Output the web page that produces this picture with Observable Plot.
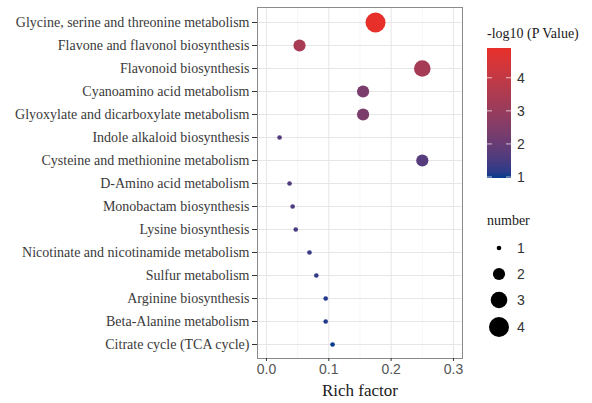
<!DOCTYPE html>
<html>
<head>
<meta charset="utf-8">
<script src="https://cdn.jsdelivr.net/npm/d3@7"></script>
<script src="https://cdn.jsdelivr.net/npm/@observablehq/plot@0.6"></script>
<style>
  body { margin: 0; background: #fff; }
  #wrap { position: relative; width: 592px; height: 403px; }
  #wrap svg { position: absolute; left: 0; top: 0; }
</style>
</head>
<body>
<div id="wrap"></div>
<script>
const pathways = [
  "Glycine, serine and threonine metabolism",
  "Flavone and flavonol biosynthesis",
  "Flavonoid biosynthesis",
  "Cyanoamino acid metabolism",
  "Glyoxylate and dicarboxylate metabolism",
  "Indole alkaloid biosynthesis",
  "Cysteine and methionine metabolism",
  "D-Amino acid metabolism",
  "Monobactam biosynthesis",
  "Lysine biosynthesis",
  "Nicotinate and nicotinamide metabolism",
  "Sulfur metabolism",
  "Arginine biosynthesis",
  "Beta-Alanine metabolism",
  "Citrate cycle (TCA cycle)"
];
const richFactor = [0.175, 0.053, 0.250, 0.155, 0.155, 0.021, 0.250, 0.037, 0.042, 0.047, 0.069, 0.080, 0.095, 0.095, 0.106];
const negLog10P  = [4.90, 3.35, 3.30, 2.35, 2.35, 1.65, 1.70, 1.60, 1.55, 1.50, 1.30, 1.25, 1.10, 1.10, 0.97];
const number     = [4, 2, 3, 2, 2, 1, 2, 1, 1, 1, 1, 1, 1, 1, 1];
const xTicks = [0, 0.1, 0.2, 0.3];
const xMinorTicks = [0.05, 0.15, 0.25];
const colorTicks = [1, 2, 3, 4];
const sizeTicks = [1, 2, 3, 4];

const data = pathways.map((p, i) => ({pathway: p, rich: richFactor[i], p: negLog10P[i], n: number[i]}));

const colorOpts = {type: "linear", domain: d3.extent(negLog10P), range: ["#053a8d", "#e8302a"], interpolate: "lab"};
const rOpts = {type: "linear", domain: [1, 2, 3, 4], range: [2.3, 6.1, 8.3, 10]};

const W = 592, H = 403;
const mL = 257, mR = 130, mT = 7, mB = 45;

const chart = Plot.plot({
  width: W, height: H,
  marginLeft: mL, marginRight: mR, marginTop: mT, marginBottom: mB,
  style: {background: "transparent"},
  x: {domain: [-0.0144, 0.3145]},
  y: {type: "point", domain: pathways, padding: 0.6},
  color: colorOpts,
  r: rOpts,
  marks: [
    Plot.gridX(xMinorTicks, {stroke: "#f0f0f0", strokeOpacity: 1, strokeWidth: 0.6}),
    Plot.gridX(xTicks, {stroke: "#e6e6e6", strokeOpacity: 1, strokeWidth: 1}),
    Plot.gridY(pathways, {stroke: "#e6e6e6", strokeOpacity: 1, strokeWidth: 1}),
    Plot.frame({stroke: "#8a8a8a", strokeWidth: 1}),
    Plot.axisY({tickSize: 5, tickPadding: 3, fontSize: 14, fontFamily: "Liberation Serif", color: "#3a3a3a", stroke: "#333", label: null}),
    Plot.axisX(xTicks, {tickSize: 3, tickPadding: 3, fontSize: 14, fontFamily: "Liberation Sans", color: "#555", stroke: "#333", tickFormat: d3.format(".1f"), label: null}),
    Plot.dot(data, {x: "rich", y: "pathway", fill: "p", r: "n", stroke: null}),
    Plot.text(["Rich factor"], {frameAnchor: "bottom", dy: 32, fontSize: 17, fontFamily: "Liberation Serif", fill: "#1a1a1a", lineAnchor: "middle"})
  ]
});
document.getElementById("wrap").appendChild(chart);

// Legends, using the same scales
const cs = Plot.scale({color: colorOpts});
const rs = Plot.scale({r: rOpts});
const svg = d3.select("#wrap").append("svg").attr("width", W).attr("height", H);

// Color bar
const barX = 487, barW = 24, barTop = 48, barBot = 178;
const cDom = colorOpts.domain;
const yv = d3.scaleLinear().domain(cDom).range([barBot, barTop]);
const grad = svg.append("defs").append("linearGradient").attr("id", "cg").attr("x1", 0).attr("y1", 1).attr("x2", 0).attr("y2", 0);
d3.range(0, 1.0001, 0.05).forEach(t => {
  grad.append("stop").attr("offset", t).attr("stop-color", cs.apply(cDom[0] + t * (cDom[1] - cDom[0])));
});
svg.append("text").attr("x", barX).attr("y", 38).attr("font-family", "Liberation Serif").attr("font-size", 14).attr("fill", "#1a1a1a").text("-log10 (P Value)");
svg.append("rect").attr("x", barX).attr("y", barTop).attr("width", barW).attr("height", barBot - barTop).attr("fill", "url(#cg)");
colorTicks.forEach(v => {
  const y = yv(v);
  svg.append("line").attr("x1", barX).attr("x2", barX + 5).attr("y1", y).attr("y2", y).attr("stroke", "#fff").attr("stroke-opacity", 0.7);
  svg.append("line").attr("x1", barX + barW - 5).attr("x2", barX + barW).attr("y1", y).attr("y2", y).attr("stroke", "#fff").attr("stroke-opacity", 0.7);
  svg.append("text").attr("x", barX + barW + 6).attr("y", y).attr("dy", "0.35em").attr("font-family", "Liberation Sans").attr("font-size", 14).attr("fill", "#333").text(v);
});

// Size legend
svg.append("text").attr("x", barX).attr("y", 225).attr("font-family", "Liberation Serif").attr("font-size", 14).attr("fill", "#1a1a1a").text("number");
const sizeY = [248, 274, 300, 327];
sizeTicks.forEach((v, i) => {
  svg.append("circle").attr("cx", 499).attr("cy", sizeY[i]).attr("r", rs.apply(v)).attr("fill", "#000");
  svg.append("text").attr("x", 517).attr("y", sizeY[i]).attr("dy", "0.35em").attr("font-family", "Liberation Sans").attr("font-size", 14).attr("fill", "#333").text(v);
});
</script>
</body>
</html>
